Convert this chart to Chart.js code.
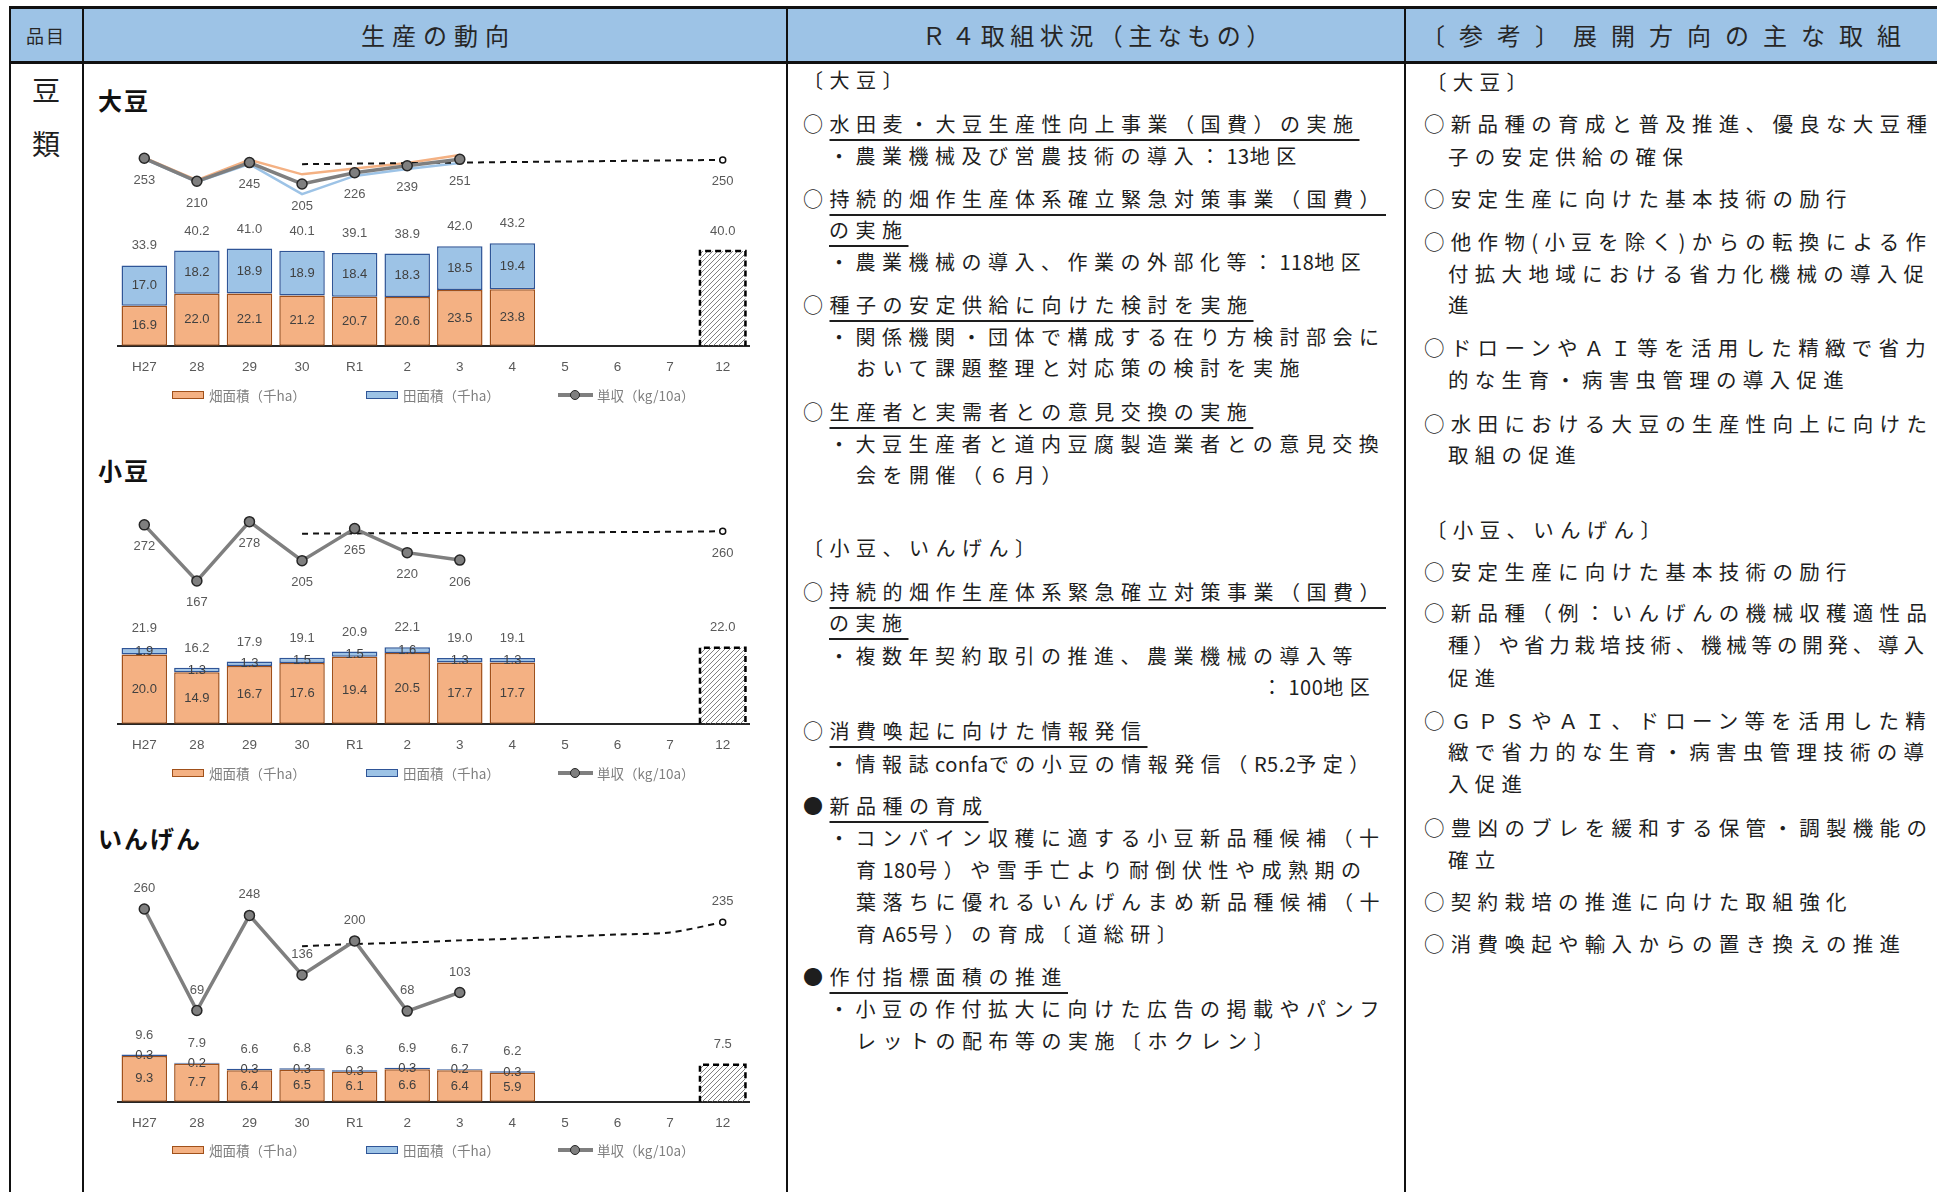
<!DOCTYPE html>
<html lang="ja">
<head>
<meta charset="utf-8">
<script src="https://cdn.jsdelivr.net/npm/chart.js@4.4.0/dist/chart.umd.min.js"></script>
<style>
html,body{margin:0;padding:0;background:#fff;}
body{width:1937px;height:1192px;position:relative;overflow:hidden;font-family:"Noto Sans CJK JP",sans-serif;color:#1e1e1e;}
.ln{position:absolute;background:#111;}
.hd{position:absolute;top:9px;height:52px;line-height:52px;text-align:center;font-size:24px;color:#262626;white-space:nowrap;}
.t{position:absolute;font-size:20px;letter-spacing:6.5px;line-height:32px;white-space:nowrap;}
.t u{text-decoration:underline;text-decoration-thickness:2px;text-underline-offset:7px;}
.t .h{letter-spacing:0.5px;}
.r{font-size:20.5px;letter-spacing:6.3px;}
.ttl{position:absolute;left:98px;font-size:24px;font-weight:bold;letter-spacing:2px;line-height:30px;color:#111;}
.kind{position:absolute;left:10px;width:72px;text-align:center;font-size:28px;line-height:34px;}
canvas{position:absolute;left:84px;}
.lg{position:absolute;font-size:13.5px;color:#7f7f7f;line-height:18px;white-space:nowrap;}
.box{position:absolute;width:30px;height:6px;top:5px;}
.lico{position:absolute;width:35px;height:18px;}
.lico i{position:absolute;left:0;top:7px;width:35px;height:4px;background:#7f7f7f;}
.lico b{position:absolute;left:12px;top:4px;width:8px;height:8px;border-radius:50%;background:#7f7f7f;border:1.5px solid #262626;}
</style>
</head>
<body>
<!-- table frame -->
<div style="position:absolute;left:10px;top:9px;width:1927px;height:52px;background:#9DC3E6;"></div>
<div class="ln" style="left:9px;top:6px;width:1928px;height:3px;"></div>
<div class="ln" style="left:9px;top:61px;width:1928px;height:3px;"></div>
<div class="ln" style="left:9px;top:6px;width:2px;height:1186px;"></div>
<div class="ln" style="left:82px;top:6px;width:2px;height:1186px;"></div>
<div class="ln" style="left:786px;top:6px;width:2px;height:1186px;"></div>
<div class="ln" style="left:1404px;top:6px;width:2px;height:1186px;"></div>

<div class="hd" style="left:10px;width:72px;font-size:18px;letter-spacing:2px;">品目</div>
<div class="hd" style="left:84px;width:702px;letter-spacing:7px;padding-left:7px;box-sizing:border-box;">生産の動向</div>
<div class="hd" style="left:788px;width:616px;letter-spacing:5.5px;padding-left:5.5px;box-sizing:border-box;">Ｒ４取組状況（主なもの）</div>
<div class="hd" style="left:1406px;width:524px;letter-spacing:14px;padding-left:0;box-sizing:border-box;">〔参考〕展開方向の主な取組</div>

<div class="kind" style="top:72px;">豆</div>
<div class="kind" style="top:126px;">類</div>

<!-- 生産の動向 -->
<div class="ttl" style="top:85px;">大豆</div>
<canvas id="c1" width="703" height="258" style="top:130px;"></canvas>
<div class="ttl" style="top:455px;">小豆</div>
<canvas id="c2" width="703" height="266" style="top:500px;"></canvas>
<div class="ttl" style="top:823px;">いんげん</div>
<canvas id="c3" width="703" height="274" style="top:870px;"></canvas>

<div id="legends"></div>

<!-- R4取組状況 -->
<div class="t" style="left:803px;top:64px;">〔大豆〕</div>
<div class="t" style="left:803px;top:108px;">○<u>水田麦・大豆生産性向上事業（国費）の実施</u></div>
<div class="t" style="left:829px;top:140px;">・農業機械及び営農技術の導入：<span class="h">13</span>地区</div>
<div class="t" style="left:803px;top:183px;">○<u>持続的畑作生産体系確立緊急対策事業（国費）</u></div>
<div class="t" style="left:829px;top:214px;"><u>の実施</u></div>
<div class="t" style="left:829px;top:246px;">・農業機械の導入、作業の外部化等：<span class="h">118</span>地区</div>
<div class="t" style="left:803px;top:289px;">○<u>種子の安定供給に向けた検討を実施</u></div>
<div class="t" style="left:829px;top:321px;">・関係機関・団体で構成する在り方検討部会に</div>
<div class="t" style="left:856px;top:352px;">おいて課題整理と対応策の検討を実施</div>
<div class="t" style="left:803px;top:396px;">○<u>生産者と実需者との意見交換の実施</u></div>
<div class="t" style="left:829px;top:428px;">・大豆生産者と道内豆腐製造業者との意見交換</div>
<div class="t" style="left:856px;top:459px;">会を開催（６月）</div>
<div class="t" style="left:803px;top:532px;">〔小豆、いんげん〕</div>
<div class="t" style="left:803px;top:576px;">○<u>持続的畑作生産体系緊急確立対策事業（国費）</u></div>
<div class="t" style="left:829px;top:607px;"><u>の実施</u></div>
<div class="t" style="left:829px;top:640px;">・複数年契約取引の推進、農業機械の導入等</div>
<div class="t" style="left:1262px;top:671px;">：<span class="h">100</span>地区</div>
<div class="t" style="left:803px;top:715px;">○<u>消費喚起に向けた情報発信</u></div>
<div class="t" style="left:829px;top:748px;">・情報誌<span class="h">confa</span>での小豆の情報発信（<span class="h">R5.2</span>予定）</div>
<div class="t" style="left:803px;top:790px;">●<u>新品種の育成</u></div>
<div class="t" style="left:829px;top:822px;">・コンバイン収穫に適する小豆新品種候補（十</div>
<div class="t" style="left:856px;top:854px;">育<span class="h">180</span>号）や雪手亡より耐倒伏性や成熟期の</div>
<div class="t" style="left:856px;top:886px;">葉落ちに優れるいんげんまめ新品種候補（十</div>
<div class="t" style="left:856px;top:918px;">育<span class="h">A65</span>号）の育成〔道総研〕</div>
<div class="t" style="left:803px;top:961px;">●<u>作付指標面積の推進</u></div>
<div class="t" style="left:829px;top:993px;">・小豆の作付拡大に向けた広告の掲載やパンフ</div>
<div class="t" style="left:856px;top:1025px;">レットの配布等の実施〔ホクレン〕</div>

<!-- 参考 -->
<div class="t r" style="left:1426px;top:65px;">〔大豆〕</div>
<div class="t r" style="left:1424px;top:107px;">○新品種の育成と普及推進、優良な大豆種</div>
<div class="t r" style="left:1448px;top:140px;">子の安定供給の確保</div>
<div class="t r" style="left:1424px;top:182px;">○安定生産に向けた基本技術の励行</div>
<div class="t r" style="left:1424px;top:225px;">○他作物(小豆を除く)からの転換による作</div>
<div class="t r" style="left:1448px;top:257px;">付拡大地域における省力化機械の導入促</div>
<div class="t r" style="left:1448px;top:288px;">進</div>
<div class="t r" style="left:1424px;top:331px;">○ドローンやＡＩ等を活用した精緻で省力</div>
<div class="t r" style="left:1448px;top:363px;">的な生育・病害虫管理の導入促進</div>
<div class="t r" style="left:1424px;top:407px;">○水田における大豆の生産性向上に向けた</div>
<div class="t r" style="left:1448px;top:438px;">取組の促進</div>
<div class="t r" style="left:1426px;top:513px;">〔小豆、いんげん〕</div>
<div class="t r" style="left:1424px;top:555px;">○安定生産に向けた基本技術の励行</div>
<div class="t r" style="left:1424px;top:596px;">○新品種（例：いんげんの機械収穫適性品</div>
<div class="t r" style="left:1448px;top:628px;letter-spacing:4.8px;">種）や省力栽培技術、機械等の開発、導入</div>
<div class="t r" style="left:1448px;top:661px;">促進</div>
<div class="t r" style="left:1424px;top:704px;">○ＧＰＳやＡＩ、ドローン等を活用した精</div>
<div class="t r" style="left:1448px;top:735px;">緻で省力的な生育・病害虫管理技術の導</div>
<div class="t r" style="left:1448px;top:767px;">入促進</div>
<div class="t r" style="left:1424px;top:811px;">○豊凶のブレを緩和する保管・調製機能の</div>
<div class="t r" style="left:1448px;top:843px;">確立</div>
<div class="t r" style="left:1424px;top:885px;">○契約栽培の推進に向けた取組強化</div>
<div class="t r" style="left:1424px;top:927px;">○消費喚起や輸入からの置き換えの推進</div>

<script>
// x axis
var years = ['H27', '28', '29', '30', 'R1', '2', '3', '4', '5', '6', '7', '12'];

// 大豆
var soyHata = [16.9, 22.0, 22.1, 21.2, 20.7, 20.6, 23.5, 23.8];
var soyTa = [17.0, 18.2, 18.9, 18.9, 18.4, 18.3, 18.5, 19.4];
var soyTotal = [33.9, 40.2, 41.0, 40.1, 39.1, 38.9, 42.0, 43.2];
var soyTarget = 40.0;
var soyYield = [253, 210, 245, 205, 226, 239, 251];
var soyYieldHata = [254, 212, 250, 223, 234, 244, 259];
var soyYieldTa = [252, 209, 242, 186, 220, 233, 244];
var soyYieldPlan = [null, null, null, 242, 243, 244, 245, 246, 247, 248, 249, 250];

// 小豆
var azukiHata = [20.0, 14.9, 16.7, 17.6, 19.4, 20.5, 17.7, 17.7];
var azukiTa = [1.9, 1.3, 1.3, 1.5, 1.5, 1.6, 1.3, 1.3];
var azukiTotal = [21.9, 16.2, 17.9, 19.1, 20.9, 22.1, 19.0, 19.1];
var azukiTarget = 22.0;
var azukiYield = [272, 167, 278, 205, 265, 220, 206];
var azukiYieldPlan = [null, null, null, 255.5, 256, 256.5, 257, 257.5, 258, 258.5, 259, 260];

// いんげん
var ingenHata = [9.3, 7.7, 6.4, 6.5, 6.1, 6.6, 6.4, 5.9];
var ingenTa = [0.3, 0.2, 0.3, 0.3, 0.3, 0.3, 0.2, 0.3];
var ingenTotal = [9.6, 7.9, 6.6, 6.8, 6.3, 6.9, 6.7, 6.2];
var ingenTarget = 7.5;
var ingenYield = [260, 69, 248, 136, 200, 68, 103];
var ingenYieldPlan = [null, null, null, 190, 194, 197, 201, 204, 208, 212, 216, 235];

var legendNames = ['畑面積（千ha）', '田面積（千ha）', '単収（kg/10a）'];

var numFont = '"Liberation Sans", Arial, sans-serif';

function hatch() {
    var c = document.createElement('canvas');
    c.width = 5; c.height = 5;
    var g = c.getContext('2d');
    g.strokeStyle = '#808080';
    g.lineWidth = 1;
    g.beginPath();
    g.moveTo(0, 5); g.lineTo(5, 0);
    g.moveTo(-1, 1); g.lineTo(1, -1);
    g.moveTo(4, 6); g.lineTo(6, 4);
    g.stroke();
    return g.createPattern(c, 'repeat');
}

// value labels + dashed outline of the target bar
var valuePlugin = {
    id: 'valuePlugin',
    afterDatasetsDraw: function (chart) {
        var ctx = chart.ctx;
        ctx.save();
        ctx.textAlign = 'center';
        ctx.textBaseline = 'middle';
        ctx.font = '13px ' + numFont;
        chart.data.datasets.forEach(function (ds, i) {
            var meta = chart.getDatasetMeta(i);
            var lab = ds.lab || {};
            meta.data.forEach(function (el, j) {
                var v = ds.data[j];
                if (v === null || v === undefined) return;
                if (lab.box) {
                    var w = el.width / 2;
                    ctx.save();
                    ctx.setLineDash([6, 4]);
                    ctx.lineWidth = 2.5;
                    ctx.strokeStyle = '#000';
                    ctx.beginPath();
                    ctx.moveTo(el.x - w, el.base);
                    ctx.lineTo(el.x - w, el.y);
                    ctx.lineTo(el.x + w, el.y);
                    ctx.lineTo(el.x + w, el.base);
                    ctx.stroke();
                    ctx.restore();
                    ctx.fillStyle = '#595959';
                    ctx.fillText(v.toFixed(1), el.x, el.y - 20);
                }
                if (lab.inside) {
                    ctx.fillStyle = '#404040';
                    ctx.fillText(v.toFixed(1), el.x, (el.y + el.base) / 2);
                }
                if (lab.totals) {
                    ctx.fillStyle = '#595959';
                    ctx.fillText(lab.totals[j].toFixed(1), el.x, el.y - 19.5);
                }
                if (lab.offset && (!lab.lastOnly || j === ds.data.length - 1)) {
                    ctx.fillStyle = '#595959';
                    ctx.fillText(String(v), el.x, el.y + lab.offset);
                }
            });
        });
        ctx.restore();
    }
};

function buildChart(id, o) {
    var targetBar = years.map(function (y, i) { return i === years.length - 1 ? o.target : null; });
    var datasets = (o.extraLines || []).concat([
        {
            type: 'line', data: o.yield, yAxisID: 'y2', order: 0,
            borderColor: '#7f7f7f', borderWidth: 3.5,
            pointRadius: 5, pointBackgroundColor: '#7f7f7f', pointBorderColor: '#262626', pointBorderWidth: 1.5,
            lab: { offset: o.labelOffset }
        },
        {
            type: 'line', data: o.plan, yAxisID: 'y2', order: 1,
            borderColor: '#111', borderWidth: 2, borderDash: [6, 5], tension: o.planTension || 0,
            pointRadius: function (c) { return c.dataIndex === years.length - 1 ? 3 : 0; },
            pointBackgroundColor: '#fff', pointBorderColor: '#111', pointBorderWidth: 1.5,
            lab: { offset: o.labelOffset, lastOnly: true }
        },
        {
            type: 'bar', data: o.hata, stack: 'a', yAxisID: 'y', order: 5,
            backgroundColor: '#F4B183', borderColor: '#A0501A', borderWidth: 1.5, borderSkipped: false,
            barPercentage: 0.865, categoryPercentage: 1,
            lab: { inside: true }
        },
        {
            type: 'bar', data: o.ta, stack: 'a', yAxisID: 'y', order: 5,
            backgroundColor: '#9DC3E6', borderColor: '#2F5597', borderWidth: 1.5, borderSkipped: false,
            barPercentage: 0.865, categoryPercentage: 1,
            lab: { inside: true, totals: o.totals }
        },
        {
            type: 'bar', data: targetBar, stack: 'a', yAxisID: 'y', order: 5,
            backgroundColor: hatch(), borderWidth: 0,
            barPercentage: 0.865, categoryPercentage: 1,
            lab: { box: true }
        }
    ]);

    return new Chart(document.getElementById(id), {
        type: 'bar',
        data: { labels: years, datasets: datasets },
        options: {
            responsive: false,
            animation: false,
            devicePixelRatio: 1,
            layout: { autoPadding: false, padding: { left: 34, right: 38, top: 0, bottom: 0 } },
            plugins: { legend: { display: false }, tooltip: { enabled: false } },
            scales: {
                x: {
                    stacked: true,
                    grid: { display: false, drawTicks: false },
                    border: { display: true, color: '#262626', width: 2 },
                    ticks: { color: '#595959', padding: 13, font: { family: numFont, size: 13.5 } }
                },
                y: { stacked: true, display: false, min: 0, max: o.barMax },
                y2: { display: false, min: o.lineMin, max: o.lineMax }
            }
        },
        plugins: [valuePlugin]
    });
}

buildChart('c1', {
    hata: soyHata, ta: soyTa, totals: soyTotal, target: soyTarget,
    yield: soyYield, plan: soyYieldPlan, labelOffset: 22,
    barMax: 91, lineMin: -97.6, lineMax: 305.9,
    extraLines: [
        { type: 'line', data: soyYieldHata, yAxisID: 'y2', order: 2, borderColor: '#F4B183', borderWidth: 2.5, pointRadius: 0 },
        { type: 'line', data: soyYieldTa, yAxisID: 'y2', order: 2, borderColor: '#9DC3E6', borderWidth: 2.5, pointRadius: 0 }
    ]
});

buildChart('c2', {
    hata: azukiHata, ta: azukiTa, totals: azukiTotal, target: azukiTarget,
    yield: azukiYield, plan: azukiYieldPlan, labelOffset: 22,
    barMax: 64.7, lineMin: -100.7, lineMax: 318.6
});

buildChart('c3', {
    hata: ingenHata, ta: ingenTa, totals: ingenTotal, target: ingenTarget,
    yield: ingenYield, plan: ingenYieldPlan, labelOffset: -20.5, planTension: 0.3,
    barMax: 47, lineMin: -102.7, lineMax: 333.4
});

// legends under each chart
var lgHtml = '';
[395, 773, 1150].forEach(function (cy) {
    var top = cy - 9;
    lgHtml += '<div class="lg" style="left:172px;top:' + top + 'px;"><span class="box" style="left:0;background:#F4B183;border:1.5px solid #A0501A;"></span><span style="position:absolute;left:37px;">' + legendNames[0] + '</span></div>';
    lgHtml += '<div class="lg" style="left:366px;top:' + top + 'px;"><span class="box" style="left:0;background:#9DC3E6;border:1.5px solid #2F5597;"></span><span style="position:absolute;left:37px;">' + legendNames[1] + '</span></div>';
    lgHtml += '<div class="lg" style="left:558px;top:' + top + 'px;"><span class="lico"><i></i><b></b></span><span style="position:absolute;left:39px;">' + legendNames[2] + '</span></div>';
});
document.getElementById('legends').innerHTML = lgHtml;
</script>
</body>
</html>
